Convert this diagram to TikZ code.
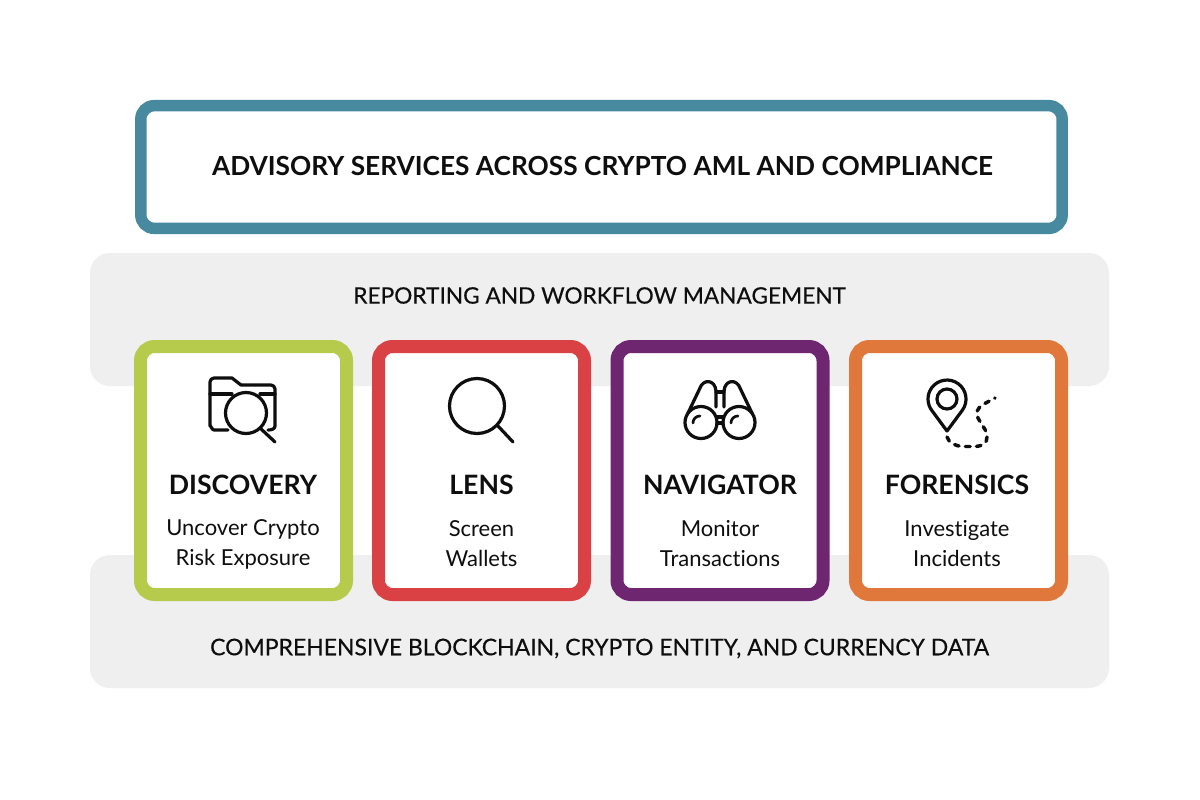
\documentclass[tikz,border=0pt]{standalone}
\usepackage{fontspec}
\setmainfont[Ligatures=NoCommon]{Lato}
\newfontfamily\medf[FakeBold=0.35]{Lato}
\definecolor{tealc}{HTML}{47899F}
\definecolor{bandc}{HTML}{EFEFEF}
\definecolor{greenc}{HTML}{B6CB4C}
\definecolor{redc}{HTML}{D94144}
\definecolor{purplec}{HTML}{6F2670}
\definecolor{orangec}{HTML}{E0783C}
\definecolor{inkc}{HTML}{0E0E0E}
\tikzset{
  x=0.75pt,y=-0.75pt,
  band/.style={fill=bandc,draw=none,rounded corners=15pt,minimum width=764.25pt,minimum height=99.75pt,inner sep=0pt},
  card/.style={fill=white,line width=9.75pt,rounded corners=10.5pt,minimum width=154.5pt,minimum height=186pt,inner sep=0pt},
  banner/.style={fill=white,draw=tealc,line width=8.6pt,rounded corners=10pt,minimum width=691pt,minimum height=92pt,inner sep=0pt},
  headtxt/.style={font=\bfseries\fontsize{19.7pt}{22pt}\selectfont,text=inkc,inner sep=0pt},
  bandtxt/.style={font=\medf\fontsize{17pt}{20pt}\selectfont,text=inkc,inner sep=0pt},
  bandtxtb/.style={font=\medf\fontsize{17.2pt}{20pt}\selectfont,text=inkc,inner sep=0pt},
  titletxt/.style={font=\bfseries\fontsize{20pt}{22pt}\selectfont,text=inkc,inner sep=0pt},
  bodytxt/.style={font=\fontsize{16.5pt}{22.5pt}\selectfont,text=inkc,align=center,inner sep=0pt},
  icon/.style={draw=inkc,line width=2.4pt,line cap=round,line join=round,fill=none},
}
\begin{document}
\begin{tikzpicture}
\useasboundingbox (0,0) rectangle (1200,800);
\fill[white] (0,0) rectangle (1200,800);
\node[band] (bandtop) at (599.5,319.5) {};
\node[band] (bandbot) at (599.5,621.5) {};
\node[banner] (adv) at (601.5,167) {};
\node[headtxt] (advt) at (602.5,166) {ADVISORY SERVICES ACROSS CRYPTO AML AND COMPLIANCE};
\node[bandtxt] (bandtopt) at (599.5,295.5) {REPORTING AND WORKFLOW MANAGEMENT};
\node[bandtxtb] (bandbott) at (599.5,648.5) {COMPREHENSIVE BLOCKCHAIN, CRYPTO ENTITY, AND CURRENCY DATA};
\node[card,draw=greenc] (c1) at (243.5,470.5) {};
\node[card,draw=redc] (c2) at (481.5,470.5) {};
\node[card,draw=purplec] (c3) at (720,470.5) {};
\node[card,draw=orangec] (c4) at (958.5,470.5) {};
\node[titletxt] (t1) at (243,485) {DISCOVERY};
\node[titletxt] (t2) at (481.5,485) {LENS};
\node[titletxt] (t3) at (720,485) {NAVIGATOR};
\node[titletxt] (t4) at (957,485) {FORENSICS};
\node[bodytxt] (b1) at (243,544.5) {Uncover Crypto\\Risk Exposure};
\node[bodytxt] (b2) at (481.5,543.3) {Screen\\Wallets};
\node[bodytxt] (b3) at (720,543.3) {Monitor\\Transactions};
\node[bodytxt] (b4) at (957,543.3) {Investigate\\Incidents};
% folder
\draw[icon] (228,430) -- (214,430) to[out=180,in=90] (210,426) -- (210,382) to[out=90,in=180] (214,378) -- (232,378) -- (241,385) -- (271,385) to[out=0,in=90] (275,389) -- (275,426) to[out=-90,in=0] (268,430);
\draw[icon] (210,394) -- (232,394) (260,394) -- (275,394);
\draw[icon] (246,413) circle[radius=20.5];
\draw[icon] (260,428) -- (275,442);
% lens
\draw[icon] (477,406) circle[radius=27.5];
\draw[icon] (498,426) -- (513,442);
% binoculars
\draw[icon] (701,422.5) circle[radius=16];
\draw[icon] (739,422.5) circle[radius=16];
\draw[icon] (688,413) -- (700,388) .. controls (703,379) and (715,379) .. (716,391) -- (716,407);
\draw[icon] (752,413) -- (740,388) .. controls (737,379) and (725,379) .. (724,391) -- (724,407);
\draw[icon] (716,392) -- (724,392);
\draw[icon] (717,417) -- (723,417) (717,423) -- (723,423);
\draw[icon,line width=2pt] (693,423) .. controls (693,419) and (696,416) .. (700,416);
\draw[icon,line width=2pt] (731,423) .. controls (731,419) and (734,416) .. (738,416);
% pin
\draw[icon] (947,431) -- (962.3,410.3) arc[start angle=-36.4,end angle=216.4,radius=14.25pt] -- cycle;
\draw[icon] (947,399) circle[radius=10];
\draw[icon,line width=2.6pt,dash pattern=on 3.5pt off 4.8pt] (947,437) .. controls (949,443) and (955,446) .. (963,446.5) -- (975,446.5) .. controls (983,446) and (987,443) .. (987,437) .. controls (987,431) and (984,428) .. (982,425) -- (978,418) .. controls (975,413) and (978,408) .. (982,405) -- (995,398);
\end{tikzpicture}
\end{document}
